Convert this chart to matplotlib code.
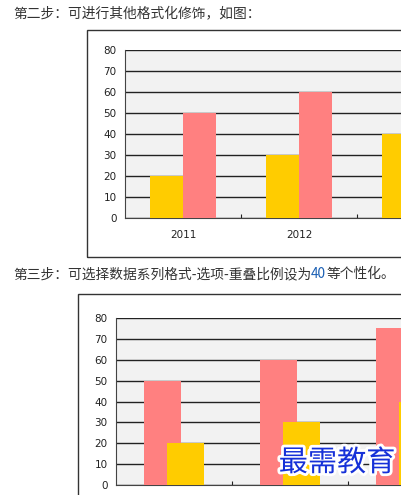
import matplotlib.pyplot as plt
import matplotlib.patheffects as pe
from matplotlib.patches import Rectangle
import numpy as np

plt.rcParams["font.family"] = ["Noto Sans CJK SC", "DejaVu Sans"]

# data
years = ["2011", "2012", "2013"]
yellow_vals = [20, 30, 40]
pink_vals = [50, 60, 75]
y_ticks = [0, 10, 20, 30, 40, 50, 60, 70, 80]

YELLOW = "#FFCC00"
PINK = "#FF8080"

W, H = 402, 495
fig = plt.figure(figsize=(W / 100, H / 100), dpi=100)


def px_axes(left, top, width, height):
    """axes placed by pixel coordinates (top-left origin)"""
    return fig.add_axes([left / W, (H - top - height) / H, width / W, height / H])


def style_plot(ax):
    ax.set_facecolor("#f2f2f2")
    ax.set_xlim(0, 3)
    ax.set_ylim(0, 80)
    ax.set_yticks(y_ticks)
    ax.set_yticklabels([str(t) for t in y_ticks], fontsize=7.5, family="DejaVu Sans", color="#222")
    ax.yaxis.grid(True, color="#222", linewidth=1)
    ax.set_axisbelow(True)
    ax.tick_params(axis="y", length=0, pad=6)
    ax.set_xticks([1, 2])
    ax.set_xticklabels([])
    ax.tick_params(axis="x", direction="in", length=3, color="#222")
    ax.set_xticks([0.5, 1.5, 2.5], minor=True)
    ax.set_xticklabels(years, minor=True, fontsize=7.5, family="DejaVu Sans", color="#222")
    ax.tick_params(axis="x", which="minor", length=0, pad=9)
    for s in ["top", "right"]:
        ax.spines[s].set_visible(False)
    ax.spines["left"].set_color("#444")
    ax.spines["bottom"].set_color("#444")


# headings
hs = 9.9
fig.text(13 / W, 1 - 13 / H, "第二步：可进行其他格式化修饰，如图：", fontsize=hs, color="#333", va="center")
t = fig.text(13 / W, 1 - 274 / H, "第三步：可选择数据系列格式-选项-重叠比例设为", fontsize=hs, color="#333", va="center")
fig.canvas.draw()
bb = t.get_window_extent()
t2 = fig.text(bb.x1 / W, 1 - 274 / H, "40", fontsize=hs, color="#1a5fb4", va="center")
fig.canvas.draw()
bb2 = t2.get_window_extent()
fig.text(bb2.x1 / W, 1 - 274 / H, "等个性化。", fontsize=hs, color="#333", va="center")

# outer frames
fig.patches.append(Rectangle((87 / W, 1 - 257 / H), 400 / W, 227 / H, transform=fig.transFigure,
                             fill=False, edgecolor="#333", linewidth=1))
fig.patches.append(Rectangle((78 / W, -10 / H), 400 / W, (495 - 294 + 10) / H, transform=fig.transFigure,
                             fill=False, edgecolor="#333", linewidth=1))

x = np.arange(len(years)) + 0.5

# chart 1: side-by-side bars
ax1 = px_axes(125, 50, 348, 168)
style_plot(ax1)
bw = 0.285
ax1.bar(x - bw / 2, yellow_vals, width=bw, color=YELLOW, zorder=3)
ax1.bar(x + bw / 2, pink_vals, width=bw, color=PINK, zorder=3)

# chart 2: overlap 40%
ax2 = px_axes(116, 318, 348, 167)
style_plot(ax2)
bw2 = 0.32
off = bw2 * 0.6 / 2
ax2.bar(x - off, pink_vals, width=bw2, color=PINK, zorder=3)
ax2.bar(x + off, yellow_vals, width=bw2, color=YELLOW, zorder=4)

# watermark
fig.text(337 / W, 1 - 463 / H, "最需教育", fontsize=21, color="#1530d8", ha="center", va="center",
         zorder=10,
         path_effects=[pe.withStroke(linewidth=4, foreground="white")])

fig.savefig("out.png", dpi=100)
